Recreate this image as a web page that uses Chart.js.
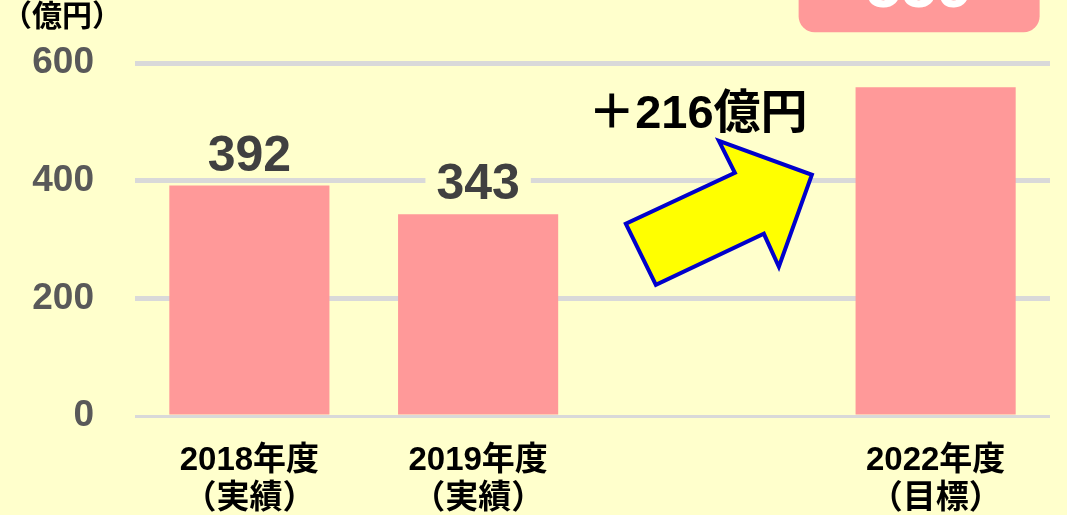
<!DOCTYPE html>
<html><head><meta charset="utf-8">
<script src="https://cdn.jsdelivr.net/npm/chart.js@4.4.0/dist/chart.umd.min.js"></script>
<style>html,body{margin:0;padding:0;background:#FFFFCC;overflow:hidden}#wrap{width:1067px;height:515px;position:relative}</style>
</head><body><div id="wrap"><canvas id="c" width="1067" height="515"></canvas></div>
<script>
const categories = [["2018年度","（実績）"],["2019年度","（実績）"],"",["2022年度","（目標）"]];
const values = [392, 343, null, 559];
const yTicks = [0, 200, 400, 600];
const unitLabel = "（億円）";
const increaseLabel = "＋216億円";
const targetLabel = "559";

const FONT = "'Liberation Sans', 'Noto Sans CJK JP', sans-serif";
const BG = '#FFFFCC';

const decor = {
  id: 'decor',
  afterDraw(chart) {
    const ctx = chart.ctx;
    const xs = chart.scales.x, ys = chart.scales.y;
    const meta = chart.getDatasetMeta(0);
    ctx.save();
    // unit label
    ctx.font = "bold 30px " + FONT;
    ctx.fillStyle = '#000';
    ctx.textAlign = 'center';
    ctx.textBaseline = 'middle';
    ctx.fillText(unitLabel, 62, 18);

    // value labels for actual bars
    [0, 1].forEach(i => {
      const bar = meta.data[i];
      const t = String(values[i]);
      ctx.font = "bold 50px " + FONT;
      const w = ctx.measureText(t).width;
      const base = bar.y - 15;
      ctx.fillStyle = BG;
      ctx.fillRect(bar.x - w / 2 - 11, base - 41, w + 22, 47);
      ctx.fillStyle = '#404040';
      ctx.textAlign = 'center';
      ctx.textBaseline = 'alphabetic';
      ctx.fillText(t, bar.x, base);
    });

    // target box
    const b3 = meta.data[3];
    const cx = b3.x - 16.5;
    const top600 = ys.getPixelForValue(600);
    const bx = cx - 120.5, bw = 241, by = -30, bh = top600 - 31 - by;
    ctx.fillStyle = '#FF9999';
    ctx.beginPath();
    ctx.roundRect(bx, by, bw, bh, 16);
    ctx.fill();
    ctx.fillStyle = '#FFFFFF';
    ctx.font = "bold 64px " + FONT;
    ctx.textAlign = 'center';
    ctx.textBaseline = 'alphabetic';
    ctx.fillText(targetLabel, cx, 7);

    // arrow
    const ax = xs.getPixelForValue(2), ay = ys.getPixelForValue(400);
    const pts = [[-81, 43], [-51, 104], [57, 53], [72, 86], [105, -6], [12, -40], [28, -8]];
    ctx.beginPath();
    pts.forEach((p, k) => { if (k === 0) ctx.moveTo(ax + p[0], ay + p[1]); else ctx.lineTo(ax + p[0], ay + p[1]); });
    ctx.closePath();
    ctx.fillStyle = '#FFFF00';
    ctx.fill();
    ctx.lineWidth = 4;
    ctx.lineJoin = 'miter';
    ctx.strokeStyle = '#0000CC';
    ctx.stroke();

    // increase label
    ctx.font = "bold 47px " + FONT;
    ctx.fillStyle = '#000';
    ctx.textAlign = 'center';
    ctx.textBaseline = 'alphabetic';
    ctx.fillText(increaseLabel, ax - 9, ay - 53);
    ctx.restore();
  }
};

new Chart(document.getElementById('c'), {
  type: 'bar',
  data: {
    labels: categories,
    datasets: [{ data: values, backgroundColor: '#FF9999', borderWidth: 0, categoryPercentage: 1, barPercentage: 0.7 }]
  },
  options: {
    responsive: false,
    animation: false,
    layout: { padding: { top: 63, right: 17, left: 0, bottom: 0 } },
    plugins: { legend: { display: false }, tooltip: { enabled: false } },
    scales: {
      x: {
        grid: { display: false },
        border: { display: false },
        ticks: { color: '#000', font: { family: FONT, size: 33, weight: 'bold', lineHeight: 1.15 }, padding: 18, maxRotation: 0, autoSkip: false },
        afterFit(s) { s.height = 99; }
      },
      y: {
        min: 0, max: 600,
        afterBuildTicks(s) { s.ticks = yTicks.map(v => ({ value: v })); },
        grid: { color: '#D9D9D9', lineWidth: c => (c.tick && c.tick.value === 0 ? 3 : 5), drawTicks: false },
        border: { display: false },
        ticks: { color: '#595959', font: { family: FONT, size: 37, weight: 'bold' }, padding: 41 },
        afterFit(s) { s.width = 135; }
      }
    }
  },
  plugins: [decor]
});
</script></body></html>
